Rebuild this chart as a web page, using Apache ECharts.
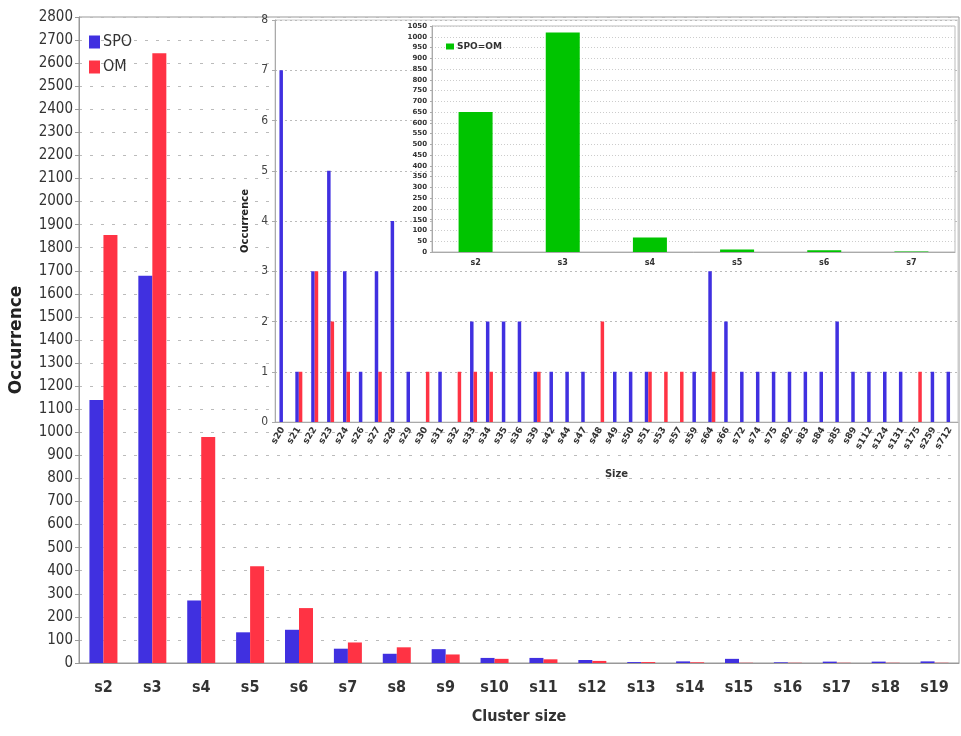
<!DOCTYPE html>
<html>
<head>
    <meta charset="utf-8">
    <title>Cluster size</title>
    <script src="https://cdn.jsdelivr.net/npm/echarts@6/dist/echarts.min.js"></script>
    <style>
        body { margin: 0; background: #fff; }
    </style>
</head>
<body>
<div id="main" style="width: 961px;height:736px;"></div>
<script type="text/javascript">
    // main chart: cluster sizes 2..19
    var mainCats = ['s2', 's3', 's4', 's5', 's6', 's7', 's8', 's9', 's10', 's11', 's12', 's13', 's14', 's15', 's16', 's17', 's18', 's19'];
    var spoMain = [1140, 1678, 271, 133, 144, 62, 40, 60, 22, 22, 13, 4, 7, 18, 3, 6, 6, 7];
    var omMain = [1855, 2643, 980, 419, 238, 89, 68, 37, 18, 16, 9, 4, 3, 1, 1, 1, 1, 1];

    // inset: larger cluster sizes
    var bigCats = ['s20', 's21', 's22', 's23', 's24', 's26', 's27', 's28', 's29', 's30', 's31', 's32', 's33', 's34', 's35', 's36', 's39', 's42', 's44', 's47', 's48', 's49', 's50', 's51', 's53', 's57', 's59', 's64', 's66', 's72', 's74', 's75', 's82', 's83', 's84', 's85', 's89', 's112', 's124', 's131', 's175', 's259', 's712'];
    var spoBig = [7, 1, 3, 5, 3, 1, 3, 4, 1, 0, 1, 0, 2, 2, 2, 2, 1, 1, 1, 1, 0, 1, 1, 1, 0, 0, 1, 3, 2, 1, 1, 1, 1, 1, 1, 2, 1, 1, 1, 1, 0, 1, 1];
    var omBig = [0, 1, 3, 2, 1, 0, 1, 0, 0, 1, 0, 1, 1, 1, 0, 0, 1, 0, 0, 0, 2, 0, 0, 1, 1, 1, 0, 1, 0, 0, 0, 0, 0, 0, 0, 0, 0, 0, 0, 0, 1, 0, 0];

    // inner inset: SPO = OM
    var eqCats = ['s2', 's3', 's4', 's5', 's6', 's7'];
    var eqVals = [650, 1020, 67, 12, 8, 2];

    var BLUE = '#4030e0', RED = '#ff3344', GREEN = '#00c400';
    var condensed = '"DejaVu Sans Condensed", "Liberation Sans Narrow", "DejaVu Sans", sans-serif';
    var boldSans = '"DejaVu Sans", Verdana, sans-serif';
    var plain = function (v) { return String(v); };

    var myChart = echarts.init(document.getElementById('main'));

    var option = {
        animation: false,
        backgroundColor: '#fff',
        legend: [
            {
                data: ['SPO', 'OM'],
                orient: 'vertical',
                left: 84, top: 29,
                itemWidth: 11, itemHeight: 13, itemGap: 9,
                icon: 'rect',
                textStyle: {fontFamily: condensed, fontSize: 16, color: '#333', padding: [0, 0, 0, -2]}
            },
            {
                data: ['SPO=OM'],
                left: 441, top: 37,
                itemWidth: 8, itemHeight: 6, itemGap: 4,
                icon: 'rect',
                z: 12,
                textStyle: {fontFamily: boldSans, fontWeight: 'bold', fontSize: 9, color: '#333', padding: [0, 0, 0, -2]}
            }
        ],
        grid: [
            {left: 79, right: 2, top: 17, bottom: 73, show: true, borderColor: '#999', borderWidth: 1},
            {left: 275, right: 3, top: 20, bottom: 314, show: true, backgroundColor: '#fff',
                borderColor: '#ccc', borderWidth: 1, z: 3},
            {left: 432, right: 6, top: 26, bottom: 484, show: true, backgroundColor: '#fff',
                borderColor: '#bbb', borderWidth: 1, z: 8}
        ],
        xAxis: [
            {
                type: 'category', gridIndex: 0, data: mainCats,
                name: 'Cluster size', nameLocation: 'middle', nameGap: 46,
                nameTextStyle: {fontFamily: condensed, fontWeight: 'bold', fontSize: 16, color: '#333'},
                axisLine: {lineStyle: {color: '#999'}},
                axisTick: {length: 5, lineStyle: {color: '#999'}},
                axisLabel: {fontFamily: condensed, fontWeight: 'bold', fontSize: 16, color: '#333', margin: 17}
            },
            {
                type: 'category', gridIndex: 1, data: bigCats, z: 4,
                name: 'Size', nameLocation: 'middle', nameGap: 47,
                nameTextStyle: {fontFamily: boldSans, fontWeight: 'bold', fontSize: 10, color: '#333'},
                axisLine: {lineStyle: {color: '#aaa'}},
                axisTick: {length: 3, lineStyle: {color: '#aaa'}},
                axisLabel: {fontFamily: boldSans, fontWeight: 'bold', fontSize: 9, color: '#333',
                    interval: 0, rotate: 58, margin: 6}
            },
            {
                type: 'category', gridIndex: 2, data: eqCats, z: 9,
                axisLine: {lineStyle: {color: '#aaa'}},
                axisTick: {length: 3, lineStyle: {color: '#ccc'}},
                axisLabel: {fontFamily: boldSans, fontWeight: 'bold', fontSize: 8, color: '#333', margin: 7}
            }
        ],
        yAxis: [
            {
                type: 'value', gridIndex: 0, min: 0, max: 2800, interval: 100,
                name: 'Occurrence', nameLocation: 'middle', nameGap: 54,
                nameTextStyle: {fontFamily: boldSans, fontWeight: 'bold', fontSize: 17, color: '#222'},
                axisLine: {show: true, lineStyle: {color: '#999'}},
                axisTick: {show: true, length: 4, lineStyle: {color: '#999'}},
                axisLabel: {fontFamily: condensed, fontSize: 15, color: '#333', margin: 6, formatter: plain},
                splitLine: {lineStyle: {color: '#bbb', type: [3, 8]}}
            },
            {
                type: 'value', gridIndex: 1, min: 0, max: 8, interval: 1, z: 4,
                name: 'Occurrence', nameLocation: 'middle', nameGap: 24,
                nameTextStyle: {fontFamily: boldSans, fontWeight: 'bold', fontSize: 10, color: '#222'},
                axisLine: {show: true, lineStyle: {color: '#aaa'}},
                axisTick: {show: true, length: 3, lineStyle: {color: '#aaa'}},
                axisLabel: {fontFamily: condensed, fontSize: 12, color: '#444', margin: 7},
                splitLine: {lineStyle: {color: '#bbb', type: [2, 3]}}
            },
            {
                type: 'value', gridIndex: 2, min: 0, max: 1050, interval: 50, z: 9,
                axisLine: {show: true, lineStyle: {color: '#aaa'}},
                axisTick: {show: true, length: 2, lineStyle: {color: '#aaa'}},
                axisLabel: {fontFamily: boldSans, fontWeight: 'bold', fontSize: 7, color: '#333', margin: 5, formatter: plain},
                splitLine: {lineStyle: {color: '#ccc', type: [1, 2]}}
            }
        ],
        series: [
            {name: 'SPO', type: 'bar', xAxisIndex: 0, yAxisIndex: 0, data: spoMain,
                barWidth: 14, barGap: '0%', itemStyle: {color: BLUE}},
            {name: 'OM', type: 'bar', xAxisIndex: 0, yAxisIndex: 0, data: omMain,
                barWidth: 14, barGap: '0%', itemStyle: {color: RED}},
            {name: 'SPO', type: 'bar', xAxisIndex: 1, yAxisIndex: 1, data: spoBig, z: 5,
                barWidth: 3.5, barGap: '0%', itemStyle: {color: BLUE}},
            {name: 'OM', type: 'bar', xAxisIndex: 1, yAxisIndex: 1, data: omBig, z: 5,
                barWidth: 3.5, barGap: '0%', itemStyle: {color: RED}},
            {name: 'SPO=OM', type: 'bar', xAxisIndex: 2, yAxisIndex: 2, data: eqVals, z: 10,
                barWidth: 34, itemStyle: {color: GREEN}}
        ]
    };

    myChart.setOption(option);
</script>
</body>
</html>
